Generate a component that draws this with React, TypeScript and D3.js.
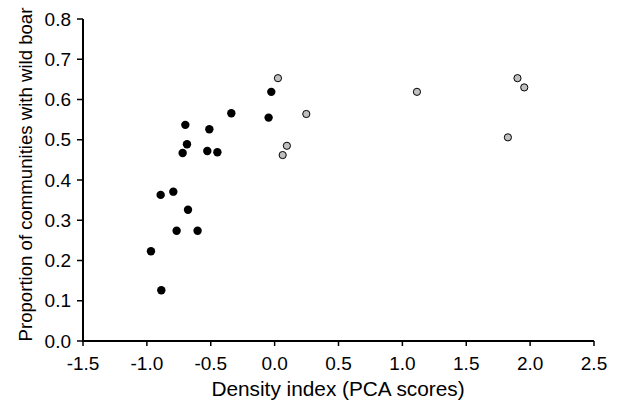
import React from "react";
import * as d3 from "d3";

const blackX = [-0.892, -0.793, -0.699, -0.686, -0.72, -0.511, -0.527, -0.448, -0.339, -0.026, -0.047, -0.678, -0.767, -0.603, -0.968, -0.887];
const blackY = [0.363, 0.371, 0.537, 0.489, 0.467, 0.526, 0.472, 0.469, 0.566, 0.619, 0.555, 0.326, 0.274, 0.274, 0.223, 0.126];
const grayX = [0.026, 0.096, 0.063, 0.248, 1.114, 1.901, 1.954, 1.826];
const grayY = [0.653, 0.485, 0.462, 0.564, 0.619, 0.653, 0.63, 0.506];

const xTicks = [-1.5, -1.0, -0.5, 0.0, 0.5, 1.0, 1.5, 2.0, 2.5];
const yTicks = [0, 0.1, 0.2, 0.3, 0.4, 0.5, 0.6, 0.7, 0.8];
const xTitle = "Density index (PCA scores)";
const yTitle = "Proportion of communities with wild boar";

const fmt = (t: number) => d3.format(".1f")(t).replace("\u2212", "-");

export default function App() {
  const W = 618, H = 403;
  const x = d3.scaleLinear().domain([-1.5, 2.5]).range([83, 594]);
  const y = d3.scaleLinear().domain([0, 0.8]).range([341, 19]);
  const font = "'Liberation Sans', Arial, sans-serif";
  return (
    <svg width={W} height={H} style={{ position: "absolute", left: 0, top: 0, background: "#fff" }} fontFamily={font}>
      <rect width={W} height={H} fill="#fff" />
      <line x1={x(-1.5)} x2={x(2.5)} y1={y(0)} y2={y(0)} stroke="#000" strokeWidth={2} />
      <line x1={x(-1.5)} x2={x(-1.5)} y1={y(0) + 1} y2={y(0.8)} stroke="#000" strokeWidth={2} />
      {xTicks.map((t) => (
        <g key={"x" + t}>
          <line x1={x(t)} x2={x(t)} y1={y(0)} y2={y(0) + 5} stroke="#000" strokeWidth={1.5} />
          <text x={x(t)} y={370} textAnchor="middle" fontSize={19}>{fmt(t)}</text>
        </g>
      ))}
      {yTicks.map((t) => (
        <g key={"y" + t}>
          <line x1={x(-1.5) - 6} x2={x(-1.5)} y1={y(t)} y2={y(t)} stroke="#000" strokeWidth={1.5} />
          <text x={71} y={y(t) + 6.7} textAnchor="end" fontSize={19}>{fmt(t)}</text>
        </g>
      ))}
      <text x={338} y={396} textAnchor="middle" fontSize={20.8}>{xTitle}</text>
      <text transform={`translate(31.5,174.5) rotate(-90)`} textAnchor="middle" fontSize={18.6}>{yTitle}</text>
      {blackX.map((v, i) => (
        <circle key={"b" + i} cx={x(v)} cy={y(blackY[i])} r={4.2} fill="#000" />
      ))}
      {grayX.map((v, i) => (
        <circle key={"g" + i} cx={x(v)} cy={y(grayY[i])} r={3.6} fill="#c0c0c0" stroke="#000" strokeWidth={1} />
      ))}
    </svg>
  );
}
